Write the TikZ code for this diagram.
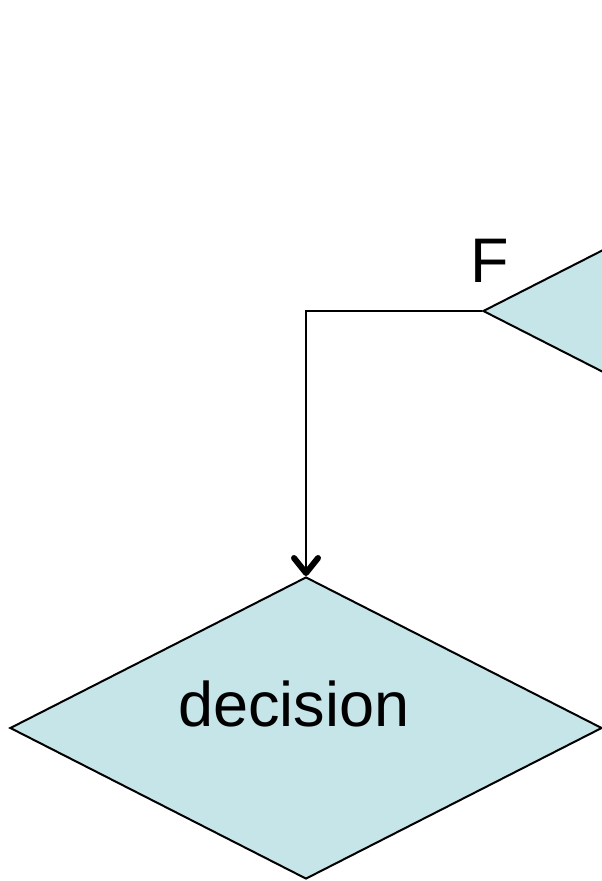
\documentclass[tikz,border=0pt]{standalone}
\usepackage{fontspec}
\setmainfont{Liberation Sans}
\usetikzlibrary{shapes.geometric,arrows.meta}
\definecolor{boxfill}{RGB}{197,229,232}
\begin{document}
\begin{tikzpicture}[x=1pt,y=-1pt,
  dec/.style={diamond,draw=black,fill=boxfill,line width=2pt,inner sep=0pt,
    minimum width=592pt,minimum height=302pt},
  conn/.style={line width=2.4pt,-{Straight Barb[length=15pt,width=24pt,line width=6pt,round]}},
  lbl/.style={font=\fontsize{63}{70}\selectfont,inner sep=0pt}]
\useasboundingbox (0,0) rectangle (602,881);
\clip (0,0) rectangle (602,881);
\node[dec] (d1) at (306,728) {};
\node[dec] (d2) at (779,311) {};
\node[lbl,anchor=base] (t1) at (294,726) {decision};
\node[lbl,anchor=base west] (f) at (470,282) {F};
\coordinate (k) at (306,311);
\draw[conn] (d2.west) -- (k) -- (d1.north);
\end{tikzpicture}
\end{document}
